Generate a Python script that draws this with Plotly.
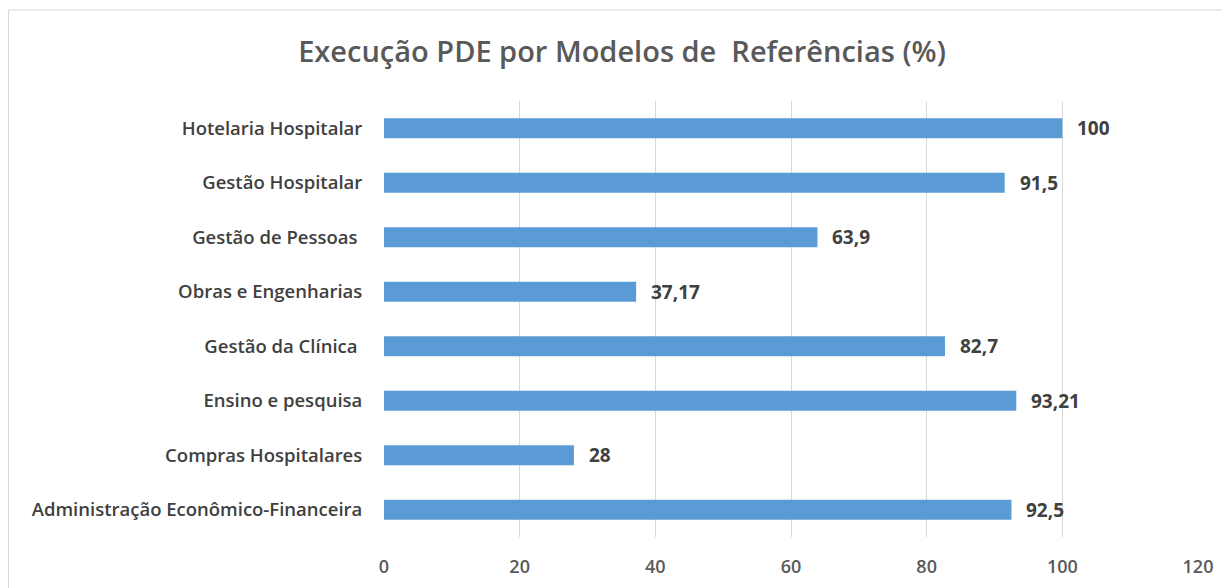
import plotly.graph_objects as go

categories = [
    "Hotelaria Hospitalar",
    "Gestão Hospitalar",
    "Gestão de Pessoas ",
    "Obras e Engenharias",
    "Gestão da Clínica ",
    "Ensino e pesquisa",
    "Compras Hospitalares",
    "Administração Econômico-Financeira",
]
values = [100, 91.5, 63.9, 37.17, 82.7, 93.21, 28, 92.5]
x_ticks = [0, 20, 40, 60, 80, 100, 120]
title_text = "Execução PDE por Modelos de  Referências (%)"

labels = [f"{v:g}".replace(".", ",") for v in values]

# page has an 8px body margin; compensate in figure coordinates
OFF = 8
W, H = 1230, 588
L, T = 384 - OFF, 101 - OFF
PR, PB = 1198 - OFF, 537 - OFF
R, B = W - PR, H - PB
pw, ph = PR - L, PB - T

fig = go.Figure()
fig.add_trace(go.Bar(
    x=values, y=categories, orientation="h",
    marker=dict(color="#5B9BD5", line=dict(width=0)),
    hoverinfo="skip",
))

for v, c, t in zip(values, categories, labels):
    fig.add_annotation(
        x=v, y=c, xref="x", yref="y", text=f"<b>{t}</b>",
        showarrow=False, xanchor="left", xshift=13,
        font=dict(family="Open Sans", size=19, color="#404040"),
    )

# chart border (only left/top visible in reference)
bx0, by0 = 0.5, 10 - OFF
fig.add_shape(
    type="rect", xref="paper", yref="paper",
    x0=(bx0 - L) / pw, x1=(W + 20 - L) / pw,
    y0=(PB - (H + 20)) / ph, y1=(PB - by0) / ph,
    line=dict(color="#D9D9D9", width=1), fillcolor="rgba(0,0,0,0)",
    layer="below",
)

fig.update_layout(
    width=W, height=H,
    margin=dict(l=L, r=R, t=T, b=B),
    paper_bgcolor="white", plot_bgcolor="white",
    bargap=0.63,
    showlegend=False,
    title=dict(
        text=title_text, x=(622 - OFF) / W, xanchor="center",
        y=1 - (52 - OFF) / H, yanchor="middle",
        font=dict(family="Open Sans", size=29, color="#595959", weight=600),
    ),
    xaxis=dict(
        range=[0, 120], tickvals=x_ticks, showgrid=True,
        gridcolor="#D9D9D9", gridwidth=1, zeroline=False, showline=False,
        tickfont=dict(family="Open Sans", size=18, color="#595959", weight=600),
        ticks="outside", ticklen=13, tickcolor="rgba(0,0,0,0)",
        fixedrange=True,
    ),
    yaxis=dict(
        categoryorder="array", categoryarray=categories, autorange="reversed",
        showgrid=False, zeroline=False, showline=False,
        tickfont=dict(family="Open Sans", size=18.5, color="#404040", weight=600),
        ticks="outside", ticklen=17, tickcolor="rgba(0,0,0,0)",
        fixedrange=True,
    ),
)

fig.write_html("out.html")
